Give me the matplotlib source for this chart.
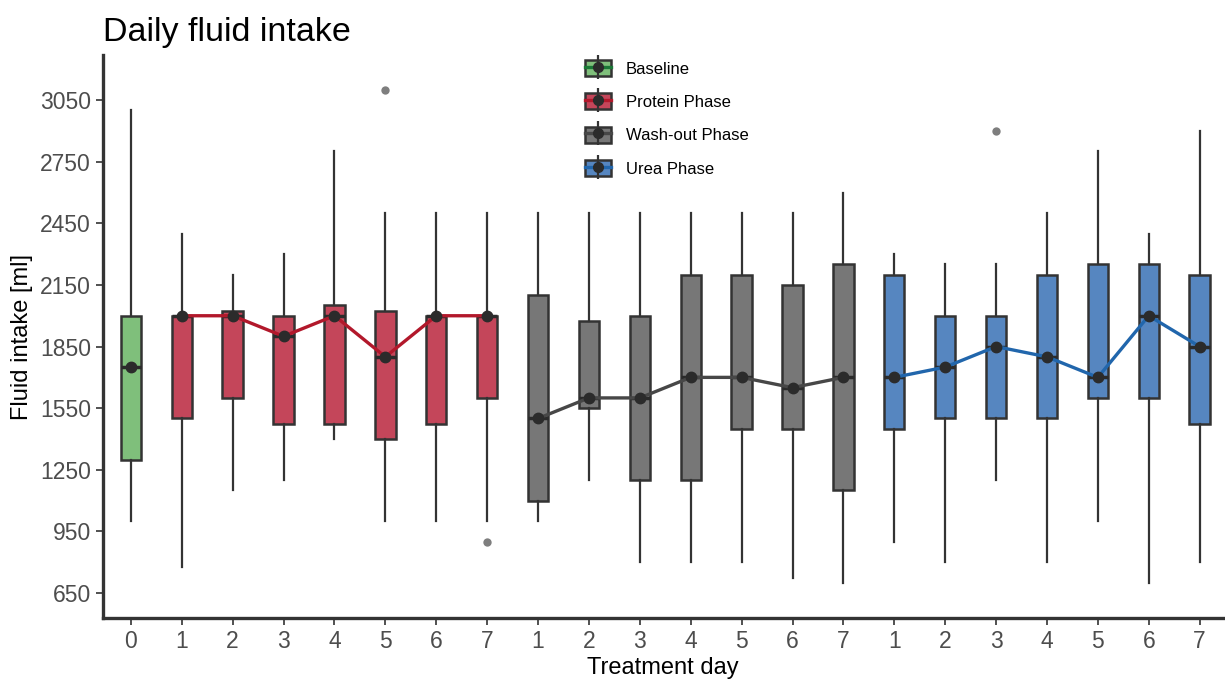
import matplotlib
matplotlib.use("Agg")
import matplotlib.pyplot as plt
from matplotlib.patches import Patch
from matplotlib.lines import Line2D

plt.rcParams['font.family'] = ['Liberation Sans', 'DejaVu Sans']

# treatment day labels and phase of each box
day_labels = ['0', '1', '2', '3', '4', '5', '6', '7',
              '1', '2', '3', '4', '5', '6', '7',
              '1', '2', '3', '4', '5', '6', '7']
phases = ['Baseline'] + ['Protein Phase'] * 7 + ['Wash-out Phase'] * 7 + ['Urea Phase'] * 7
phase_names = ['Baseline', 'Protein Phase', 'Wash-out Phase', 'Urea Phase']

# box statistics (ml)
whislo = [1000, 775, 1150, 1200, 1400, 1000, 1000, 1000,
          1000, 1200, 800, 800, 800, 725, 700,
          900, 800, 1200, 800, 1000, 700, 800]
q1 = [1300, 1500, 1600, 1475, 1475, 1400, 1475, 1600,
      1100, 1550, 1200, 1200, 1450, 1450, 1150,
      1450, 1500, 1500, 1500, 1600, 1600, 1475]
med = [1750, 2000, 2000, 1900, 2000, 1800, 2000, 2000,
       1500, 1600, 1600, 1700, 1700, 1650, 1700,
       1700, 1750, 1850, 1800, 1700, 2000, 1850]
q3 = [2000, 2000, 2025, 2000, 2050, 2025, 2000, 2000,
      2100, 1975, 2000, 2200, 2200, 2150, 2250,
      2200, 2000, 2000, 2200, 2250, 2250, 2200]
whishi = [3000, 2400, 2200, 2300, 2800, 2500, 2500, 2500,
          2500, 2500, 2500, 2500, 2500, 2500, 2600,
          2300, 2250, 2250, 2500, 2800, 2400, 2900]
outliers = {5: [3100], 7: [900], 17: [2900]}

fill_colors = {'Baseline': '#7fbf7b', 'Protein Phase': '#c4465a',
               'Wash-out Phase': '#777777', 'Urea Phase': '#5686c0'}
line_colors = {'Baseline': '#1b7837', 'Protein Phase': '#b2182b',
               'Wash-out Phase': '#474747', 'Urea Phase': '#2166ac'}
dark = '#2b2b2b'

fig = plt.figure(figsize=(12.25, 6.8), dpi=100)
ax = fig.add_axes([0.084, 0.091, 0.914, 0.828])

positions = list(range(len(day_labels)))
stats = []
for i in positions:
    stats.append({'whislo': whislo[i], 'q1': q1[i], 'med': med[i], 'q3': q3[i],
                  'whishi': whishi[i], 'fliers': outliers.get(i, [])})

bp = ax.bxp(stats, positions=positions, widths=0.4, patch_artist=True,
            showcaps=False,
            boxprops=dict(edgecolor='#333333', linewidth=1.8),
            whiskerprops=dict(color='#333333', linewidth=1.6),
            medianprops=dict(color=dark, linewidth=2.5),
            flierprops=dict(marker='o', markerfacecolor='#707070', markeredgecolor='none',
                            markersize=6, alpha=0.9))
for patch, ph in zip(bp['boxes'], phases):
    patch.set_facecolor(fill_colors[ph])

# median lines per phase
for ph in phase_names:
    idx = [i for i in positions if phases[i] == ph]
    ys = [med[i] for i in idx]
    if len(idx) > 1:
        ax.plot(idx, ys, color=line_colors[ph], linewidth=2.4, zorder=4)
    ax.plot(idx, ys, linestyle='none', marker='o', markersize=7.5, color=dark, zorder=5)

ax.set_xlim(-0.55, 21.45)
ax.set_ylim(528, 3269)
ax.set_xticks(positions)
ax.set_xticklabels(day_labels)
ax.set_yticks([650, 950, 1250, 1550, 1850, 2150, 2450, 2750, 3050])
ax.tick_params(axis='both', labelsize=16.5, labelcolor='#4d4d4d', color='#333333',
               length=5, width=1.2)

for s in ['top', 'right']:
    ax.spines[s].set_visible(False)
for s in ['left', 'bottom']:
    ax.spines[s].set_linewidth(2.4)
    ax.spines[s].set_color('#333333')

ax.set_xlabel('Treatment day', fontsize=17, labelpad=3)
ax.set_ylabel('Fluid intake [ml]', fontsize=17, labelpad=5)
ax.set_title('Daily fluid intake', fontsize=24.5, loc='left', pad=10)

handles = []
for ph in phase_names:
    box = Patch(facecolor=fill_colors[ph], edgecolor='#333333', linewidth=1.8)
    hline = Line2D([], [], color=line_colors[ph], linewidth=2.4)
    vline = Line2D([], [], linestyle='none', marker='|', markersize=17,
                   markeredgewidth=1.6, color='#333333')
    dot = Line2D([], [], linestyle='none', marker='o', markersize=7, color=dark)
    handles.append((box, vline, hline, dot))

ax.legend(handles, phase_names, loc='upper left', bbox_to_anchor=(0.417, 1.018),
          frameon=False, fontsize=12, handlelength=1.55, handleheight=1.1,
          labelspacing=1.0, handletextpad=0.9)

plt.savefig('out.png', dpi=100)
plt.close()
